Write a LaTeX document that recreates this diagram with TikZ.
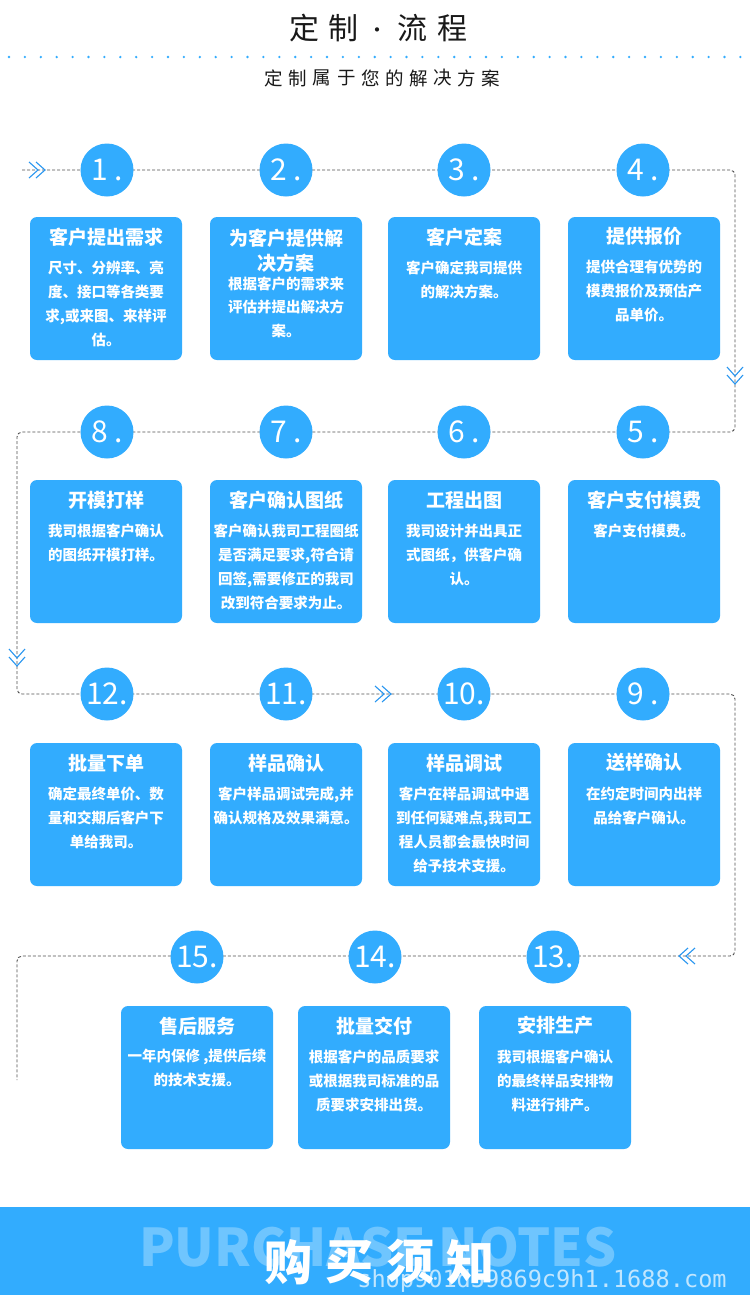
\documentclass[tikz,border=0pt]{standalone}
\usepackage{fontspec}
\setmainfont{Noto Sans CJK SC}
\newfontfamily\monof{DejaVu Sans Mono}
\definecolor{mblue}{RGB}{50,172,254}
\definecolor{dline}{RGB}{80,80,80}
\definecolor{chevc}{RGB}{40,150,240}
\tikzset{
  card/.style={fill=mblue, rounded corners=7pt, minimum width=152pt, minimum height=143pt, inner sep=0pt},
  ttl/.style={text=white, inner sep=0pt, align=center, font=\bfseries\fontsize{19}{25}\selectfont},
  bdy/.style={text=white, inner sep=0pt, align=center, font=\bfseries\fontsize{14.5}{24}\selectfont},
  num/.style={circle, fill=mblue, minimum size=53pt, inner sep=0pt, text=white, font=\fontsize{30}{30}\selectfont},
  flow/.style={draw=dline, line width=0.9pt, dash pattern=on 3pt off 2pt},
  chevs/.style={draw=chevc, line width=1.1pt},
  chevR/.pic={\draw[chevs] (-9,-8) -- (0,0) -- (-9,8);},
  chevL/.pic={\draw[chevs] (9,-8) -- (0,0) -- (9,8);},
  chevD/.pic={\draw[chevs] (-8,-9) -- (0,0) -- (8,-9);}
}
\newcommand\mkcard[5]{%
  \node[card] (#1) at (#2,#3+71.5) {};
  \node[ttl] (#1t) at ([yshift=-20pt]#1.north) {#4};
  \node[bdy, anchor=north] (#1b) at ([yshift=-43.5pt]#1.north) {#5};
}
\begin{document}
\begin{tikzpicture}[x=1pt,y=-1pt]
\useasboundingbox (0,0) rectangle (750,1312);
\fill[white] (0,0) rectangle (750,1312);

% header
\foreach \c/\xx in {定/304,制/343,流/412,程/452}
  \node[inner sep=0pt, font=\fontsize{30}{30}\selectfont, text=black!90] at (\xx,28) {\c};
\node[inner sep=0pt, font=\fontsize{20}{20}\selectfont, text=black!90] (tdot) at (377,33) {·};
\foreach \i in {0,...,46}
  \fill[mblue] (9+\i*15.9,57) circle (1.3);
\foreach \c [count=\i] in {定,制,属,于,您,的,解,决,方,案}
  \node[inner sep=0pt, font=\fontsize{18.5}{20}\selectfont, text=black!90] at (274+\i*24.1-24.1,78) {\c};

% flow line
\coordinate (p0) at (22,170);
\coordinate (p1) at (735,170);
\coordinate (p2) at (735,432);
\coordinate (p3) at (17,432);
\coordinate (p4) at (17,694);
\coordinate (p5) at (735,694);
\coordinate (p6) at (735,956);
\coordinate (p7) at (17,956);
\coordinate (p8) at (17,1080);
\draw[flow, rounded corners=5pt] (p0) -- (p1) -- (p2) -- (p3) -- (p4) -- (p5) -- (p6) -- (p7) -- (p8);

% chevrons
\coordinate (c1) at (38,170);  \coordinate (c2) at (45,170);
\coordinate (c3) at (735,376); \coordinate (c4) at (735,384);
\coordinate (c5) at (17,658);  \coordinate (c6) at (17,666);
\coordinate (c7) at (384,694); \coordinate (c8) at (391,694);
\coordinate (c9) at (679,956); \coordinate (c10) at (686,956);
\pic at (c1) {chevR}; \pic at (c2) {chevR};
\pic at (c3) {chevD}; \pic at (c4) {chevD};
\pic at (c5) {chevD}; \pic at (c6) {chevD};
\pic at (c7) {chevR}; \pic at (c8) {chevR};
\pic at (c9) {chevL}; \pic at (c10) {chevL};

% number circles
\node[num] (n1) at (107,170) {1\hspace{7pt}.};
\node[num] (n2) at (286,170) {2\hspace{7pt}.};
\node[num] (n3) at (464,170) {3\hspace{7pt}.};
\node[num] (n4) at (643,170) {4\hspace{7pt}.};
\node[num] (n8) at (107,432) {8\hspace{7pt}.};
\node[num] (n7) at (286,432) {7\hspace{7pt}.};
\node[num] (n6) at (464,432) {6\hspace{7pt}.};
\node[num] (n5) at (643,432) {5\hspace{7pt}.};
\node[num] (n12) at (107,694) {12.};
\node[num] (n11) at (286,694) {11.};
\node[num] (n10) at (464,694) {10.};
\node[num] (n9) at (643,694) {9\hspace{7pt}.};
\node[num] (n15) at (197,957) {15.};
\node[num] (n14) at (375,957) {14.};
\node[num] (n13) at (553,957) {13.};

% cards row 1
\mkcard{b1}{106}{217}{客户提出需求}{尺寸、分辨率、亮\\度、接口等各类要\\求,或来图、来样评\\估。}
\node[card] (b2) at (286,288.5) {};
\node[ttl, anchor=north] (b2t) at ([yshift=-11.5pt]b2.north) {为客户提供解\\决方案};
\node[bdy, anchor=north, font=\bfseries\fontsize{14.5}{23.5}\selectfont] (b2b) at ([yshift=-59.5pt]b2.north) {根据客户的需求来\\评估并提出解决方\\案。};
\mkcard{b3}{464}{217}{客户定案}{客户确定我司提供\\的解决方案。}
\mkcard{b4}{644}{217}{提供报价}{提供合理有优势的\\模费报价及预估产\\品单价。}
% row 2
\mkcard{b8}{106}{480}{开模打样}{我司根据客户确认\\的图纸开模打样。}
\mkcard{b7}{286}{480}{客户确认图纸}{客户确认我司工程圈纸\\是否满足要求,符合请\\回签,需要修正的我司\\改到符合要求为止。}
\mkcard{b6}{464}{480}{工程出图}{我司设计并出具正\\式图纸，供客户确\\认。}
\mkcard{b5}{644}{480}{客户支付模费}{客户支付模费。}
% row 3
\mkcard{b12}{106}{743}{批量下单}{确定最终单价、数\\量和交期后客户下\\单给我司。}
\mkcard{b11}{286}{743}{样品确认}{客户样品调试完成,并\\确认规格及效果满意。}
\mkcard{b10}{464}{743}{样品调试}{客户在样品调试中遇\\到任何疑难点,我司工\\程人员都会最快时间\\给予技术支援。}
\mkcard{b9}{644}{743}{送样确认}{在约定时间内出样\\品给客户确认。}
% row 4
\mkcard{b15}{197}{1006}{售后服务}{一年内保修 ,提供后续\\的技术支援。}
\mkcard{b14}{374}{1006}{批量交付}{根据客户的品质要求\\或根据我司标准的品\\质要求安排出货。}
\mkcard{b13}{555}{1006}{安排生产}{我司根据客户确认\\的最终样品安排物\\料进行排产。}

% banner
\fill[mblue] (0,1207) rectangle (750,1295);
\node[inner sep=0pt, text=white, text opacity=0.3, font=\bfseries\fontsize{52}{52}\selectfont] (pn) at (378,1247) {PURCHASE NOTES};
\foreach \c/\xx in {购/288,买/349,须/410,知/470}
  \node[inner sep=0pt, text=white, font=\bfseries\fontsize{48}{48}\selectfont] at (\xx,1262) {\c};
\node[inner sep=0pt, text=white, text opacity=0.7, font=\monof\fontsize{23.6}{24}\selectfont] (url) at (542,1281) {shop901d59869c9h1.1688.com};
\end{tikzpicture}
\end{document}
